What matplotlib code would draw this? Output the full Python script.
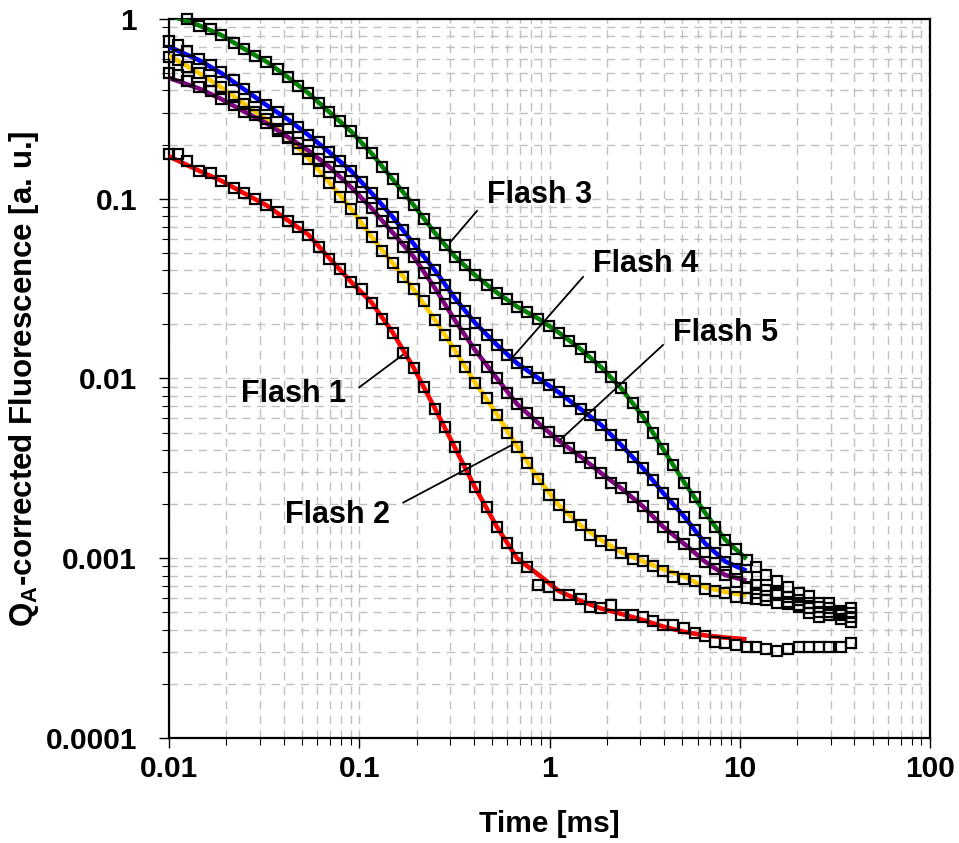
import matplotlib; matplotlib.use("Agg")
import matplotlib.pyplot as plt
from matplotlib.ticker import FixedLocator, FixedFormatter, LogLocator, NullFormatter
import numpy as np

plt.rcParams["font.family"] = ["Liberation Sans", "DejaVu Sans"]
plt.rcParams["font.weight"] = "bold"
plt.rcParams["mathtext.fontset"] = "custom"
plt.rcParams["mathtext.bf"] = "Liberation Sans:bold"
plt.rcParams["mathtext.rm"] = "Liberation Sans:bold"

# measured time points [ms]
t_ms = [0.01, 0.0111, 0.0124, 0.0144, 0.0166, 0.0188, 0.022, 0.0249, 0.0283, 0.0325,
        0.0372, 0.042, 0.0474, 0.0541, 0.0614, 0.0693, 0.0797, 0.0905, 0.103, 0.116,
        0.131, 0.150, 0.170, 0.193, 0.218, 0.250, 0.282, 0.319, 0.360, 0.406,
        0.469, 0.530, 0.598, 0.675, 0.762, 0.875, 0.994, 1.12, 1.27, 1.46,
        1.64, 1.87, 2.11, 2.38, 2.75, 3.10, 3.50, 3.95, 4.46, 5.12,
        5.82, 6.57, 7.41, 8.37, 9.61, 10.85, 12.2, 13.8, 15.6, 18.0,
        20.5, 23.1, 26.1, 29.5, 33.9, 38.2]

nan = np.nan
flash1 = [0.177, 0.177, 0.162, 0.1427, 0.1385, 0.1255, 0.1143, 0.1072, 0.0993, 0.0923,
          0.0841, 0.0752, 0.0694, 0.0629, 0.0541, 0.0462, 0.0408, 0.0346, 0.0313, 0.0264,
          0.02135, 0.01798, 0.01391, 0.01139, 0.0090, 0.00677, 0.00539, 0.00414, 0.00313, 0.00248,
          0.00192, 0.001487, 0.001221, 0.000999, 0.000897, 0.00071, 0.000689, 0.000624, 0.000624, 0.000591,
          0.000538, 0.000527, 0.000549, 0.000483, 0.000483, 0.000473, 0.00045, 0.000425, 0.000425, 0.000408,
          0.000384, 0.000367, 0.000343, 0.000338, 0.000329, 0.00032, 0.00032, 0.000312, 0.000305, 0.000312,
          0.00032, 0.00032, 0.00032, 0.00032, 0.00032, 0.000336]
flash2 = [0.618, 0.591, 0.543, 0.501, 0.452, 0.417, 0.369, 0.337, 0.304, 0.276,
          0.244, 0.217, 0.188, 0.166, 0.143, 0.1228, 0.1019, 0.0874, 0.0736, 0.0615,
          0.0512, 0.0437, 0.0368, 0.0313, 0.027, 0.0212, 0.01746, 0.01428, 0.01163, 0.00947,
          0.00776, 0.00626, 0.00497, 0.00414, 0.00339, 0.00275, 0.00225, 0.00198, 0.0017, 0.00153,
          0.00135, 0.00125, 0.00119, 0.00107, 0.000987, 0.000969, 0.000906, 0.000853, 0.000783, 0.000764,
          0.00075, 0.000672, 0.00066, 0.000638, 0.000611, 0.000599, 0.000591, 0.000586, 0.000566, 0.000556,
          0.000538, 0.000494, 0.000473, 0.000483, 0.000457, 0.000444]
flash3 = [nan, nan, 1.0, 0.918, 0.88, 0.815, 0.732, 0.681, 0.625, 0.579,
          0.527, 0.476, 0.425, 0.386, 0.34, 0.305, 0.271, 0.237, 0.205, 0.179,
          0.151, 0.128, 0.107, 0.0923, 0.0774, 0.0645, 0.0555, 0.0476, 0.0428, 0.0376,
          0.0332, 0.03, 0.0278, 0.0251, 0.0233, 0.0215, 0.0197, 0.018, 0.0162, 0.01454,
          0.01312, 0.01154, 0.01015, 0.00882, 0.00728, 0.00613, 0.00497, 0.00405, 0.0033, 0.00263,
          0.0022, 0.00179, 0.0015, 0.00127, 0.00112, 0.000974, 0.000891, 0.000807, 0.00075, 0.000694,
          0.000638, 0.000617, 0.000566, 0.000566, 0.000511, 0.000527]
flash4 = [0.757, 0.717, 0.666, 0.597, 0.551, 0.504, 0.455, 0.406, 0.369, 0.332,
          0.303, 0.277, 0.252, 0.226, 0.206, 0.182, 0.163, 0.143, 0.124, 0.1076,
          0.0929, 0.0791, 0.067, 0.0562, 0.0477, 0.0399, 0.0331, 0.0279, 0.0238, 0.0204,
          0.01746, 0.01536, 0.01351, 0.01215, 0.01091, 0.01003, 0.0092, 0.00836, 0.00752, 0.00674,
          0.00626, 0.00551, 0.00485, 0.00427, 0.00367, 0.00317, 0.00272, 0.00231, 0.002, 0.0017,
          0.00144, 0.00121, 0.00107, 0.000957, 0.000866, 0.00079, 0.00071, 0.000666, 0.000638, 0.000606,
          0.000586, 0.000562, 0.000538, 0.000527, 0.000496, 0.000498]
flash5 = [0.503, 0.488, 0.449, 0.416, 0.398, 0.359, 0.332, 0.305, 0.292, 0.263,
          0.238, 0.221, 0.205, 0.185, 0.166, 0.151, 0.132, 0.116, 0.1019, 0.0885,
          0.0755, 0.0647, 0.0541, 0.0476, 0.0388, 0.0318, 0.026, 0.021, 0.01769, 0.0144,
          0.01163, 0.01003, 0.00834, 0.00721, 0.0064, 0.00563, 0.00506, 0.00451, 0.00409, 0.00367,
          0.00337, 0.00297, 0.00263, 0.00245, 0.00218, 0.00194, 0.0017, 0.0015, 0.00132, 0.0012,
          0.00106, 0.000957, 0.000868, 0.000807, 0.000738, 0.00068, 0.000638, 0.000617, 0.000624, 0.000573,
          0.000549, 0.000527, 0.000504, 0.000502, 0.000483, 0.000473]

# fitted curves (coarser grid up to ~11 ms)
t_fit = [0.01, 0.0144, 0.0188, 0.0249, 0.0325, 0.042, 0.0541, 0.0693, 0.0905, 0.116,
         0.150, 0.193, 0.250, 0.319, 0.406, 0.530, 0.675, 0.875, 1.12, 1.46,
         1.87, 2.38, 3.10, 3.95, 5.12, 6.57, 8.37, 10.85]
fit1 = [0.172, 0.143, 0.126, 0.107, 0.092, 0.076, 0.063, 0.047, 0.0345, 0.0265,
        0.018, 0.0115, 0.0068, 0.0041, 0.00248, 0.00149, 0.00100, 0.00081, 0.000657, 0.000578,
        0.000525, 0.00049, 0.000453, 0.000417, 0.000389, 0.000372, 0.000362, 0.000354]
fit2 = [0.625, 0.50, 0.417, 0.337, 0.276, 0.220, 0.168, 0.124, 0.088, 0.0615,
        0.0437, 0.0313, 0.0212, 0.0143, 0.0095, 0.0063, 0.0042, 0.00277, 0.00197, 0.00152,
        0.00126, 0.00108, 0.00096, 0.00087, 0.00079, 0.00069, 0.00065, 0.00062]
fit3 = [1.05, 0.92, 0.815, 0.681, 0.579, 0.476, 0.386, 0.305, 0.237, 0.179,
        0.128, 0.0923, 0.0645, 0.0476, 0.0376, 0.0300, 0.0251, 0.0215, 0.0180, 0.01454,
        0.01154, 0.00882, 0.00613, 0.00405, 0.00263, 0.00179, 0.00127, 0.00099]
fit4 = [0.70, 0.59, 0.50, 0.405, 0.332, 0.277, 0.226, 0.182, 0.143, 0.1076,
        0.0791, 0.0562, 0.0399, 0.0279, 0.0204, 0.01536, 0.01215, 0.01003, 0.00836, 0.00674,
        0.00551, 0.00427, 0.00317, 0.00231, 0.00170, 0.00121, 0.00096, 0.00085]
fit5 = [0.47, 0.41, 0.359, 0.305, 0.263, 0.221, 0.185, 0.151, 0.116, 0.0885,
        0.0647, 0.0476, 0.0318, 0.0210, 0.0144, 0.0100, 0.00721, 0.00563, 0.00451, 0.00367,
        0.00297, 0.00245, 0.00194, 0.00150, 0.00120, 0.000957, 0.000807, 0.00075]

labels = ["Flash 1", "Flash 2", "Flash 3", "Flash 4", "Flash 5"]
colors = ["#ff0000", "#ffcc00", "#008000", "#0000ff", "#800080"]
x_ticks = [0.01, 0.1, 1, 10, 100]
x_ticklabels = ["0.01", "0.1", "1", "10", "100"]
y_ticks = [0.0001, 0.001, 0.01, 0.1, 1]
y_ticklabels = ["0.0001", "0.001", "0.01", "0.1", "1"]

fig = plt.figure(figsize=(9.59, 8.43), dpi=100)
ax = fig.add_axes([0.1762, 0.1246, 0.7936, 0.8529])
ax.set_xscale("log"); ax.set_yscale("log")
ax.set_xlim(0.01, 100); ax.set_ylim(0.0001, 1)

for f, c in zip([fit1, fit2, fit3, fit4, fit5], colors):
    ax.plot(t_fit, f, color=c, lw=3.3, zorder=3, solid_capstyle="butt")
for d in [flash1, flash2, flash3, flash4, flash5]:
    ax.plot(t_ms, d, ls="none", marker="s", ms=7.3, mfc="none", mec="black", mew=1.6,
            zorder=4, clip_on=False)

ax.xaxis.set_major_locator(FixedLocator(x_ticks))
ax.xaxis.set_major_formatter(FixedFormatter(x_ticklabels))
ax.yaxis.set_major_locator(FixedLocator(y_ticks))
ax.yaxis.set_major_formatter(FixedFormatter(y_ticklabels))
ax.xaxis.set_minor_locator(LogLocator(base=10, subs=np.arange(2, 10)))
ax.yaxis.set_minor_locator(LogLocator(base=10, subs=np.arange(2, 10)))
ax.xaxis.set_minor_formatter(NullFormatter())
ax.yaxis.set_minor_formatter(NullFormatter())

ax.grid(True, which="both", color="#c0c0c0", lw=1, ls=(0, (6, 4.5)), zorder=0)
ax.set_axisbelow(True)
for s in ax.spines.values():
    s.set_linewidth(1.6)
ax.tick_params(which="major", direction="out", length=7, width=1, labelsize=21.5)
ax.tick_params(which="minor", direction="out", length=5, width=0.8)
ax.tick_params(axis="y", which="major", pad=16)
ax.tick_params(axis="x", which="major", pad=5)

ax.set_xlabel("Time [ms]", fontsize=21.5, fontweight="bold", labelpad=20)
ax.set_ylabel(r"Q$_\mathbf{A}$-corrected Fluorescence [a. u.]", fontsize=22.5,
              fontweight="bold", labelpad=3)

# labels with leader lines: (text pos, leader start, leader end)
notes = [
    ("Flash 1", (0.0449, 0.0082), (0.100, 0.00893), (0.169, 0.01351)),
    ("Flash 2", (0.0773, 0.00174), (0.1704, 0.00204), (0.635, 0.00427)),
    ("Flash 3", (0.891, 0.105), (0.416, 0.0855), (0.3025, 0.0577)),
    ("Flash 4", (3.21, 0.0434), (1.50, 0.0367), (0.643, 0.0132)),
    ("Flash 5", (8.47, 0.0179), (3.95, 0.01536), (1.136, 0.00455)),
]
for txt, pos, p0, p1 in notes:
    ax.text(pos[0], pos[1], txt, fontsize=22, fontweight="bold", ha="center", va="center", zorder=6)
    ax.plot([p0[0], p1[0]], [p0[1], p1[1]], color="black", lw=1.3, zorder=5)

fig.savefig("out.png", dpi=100)
